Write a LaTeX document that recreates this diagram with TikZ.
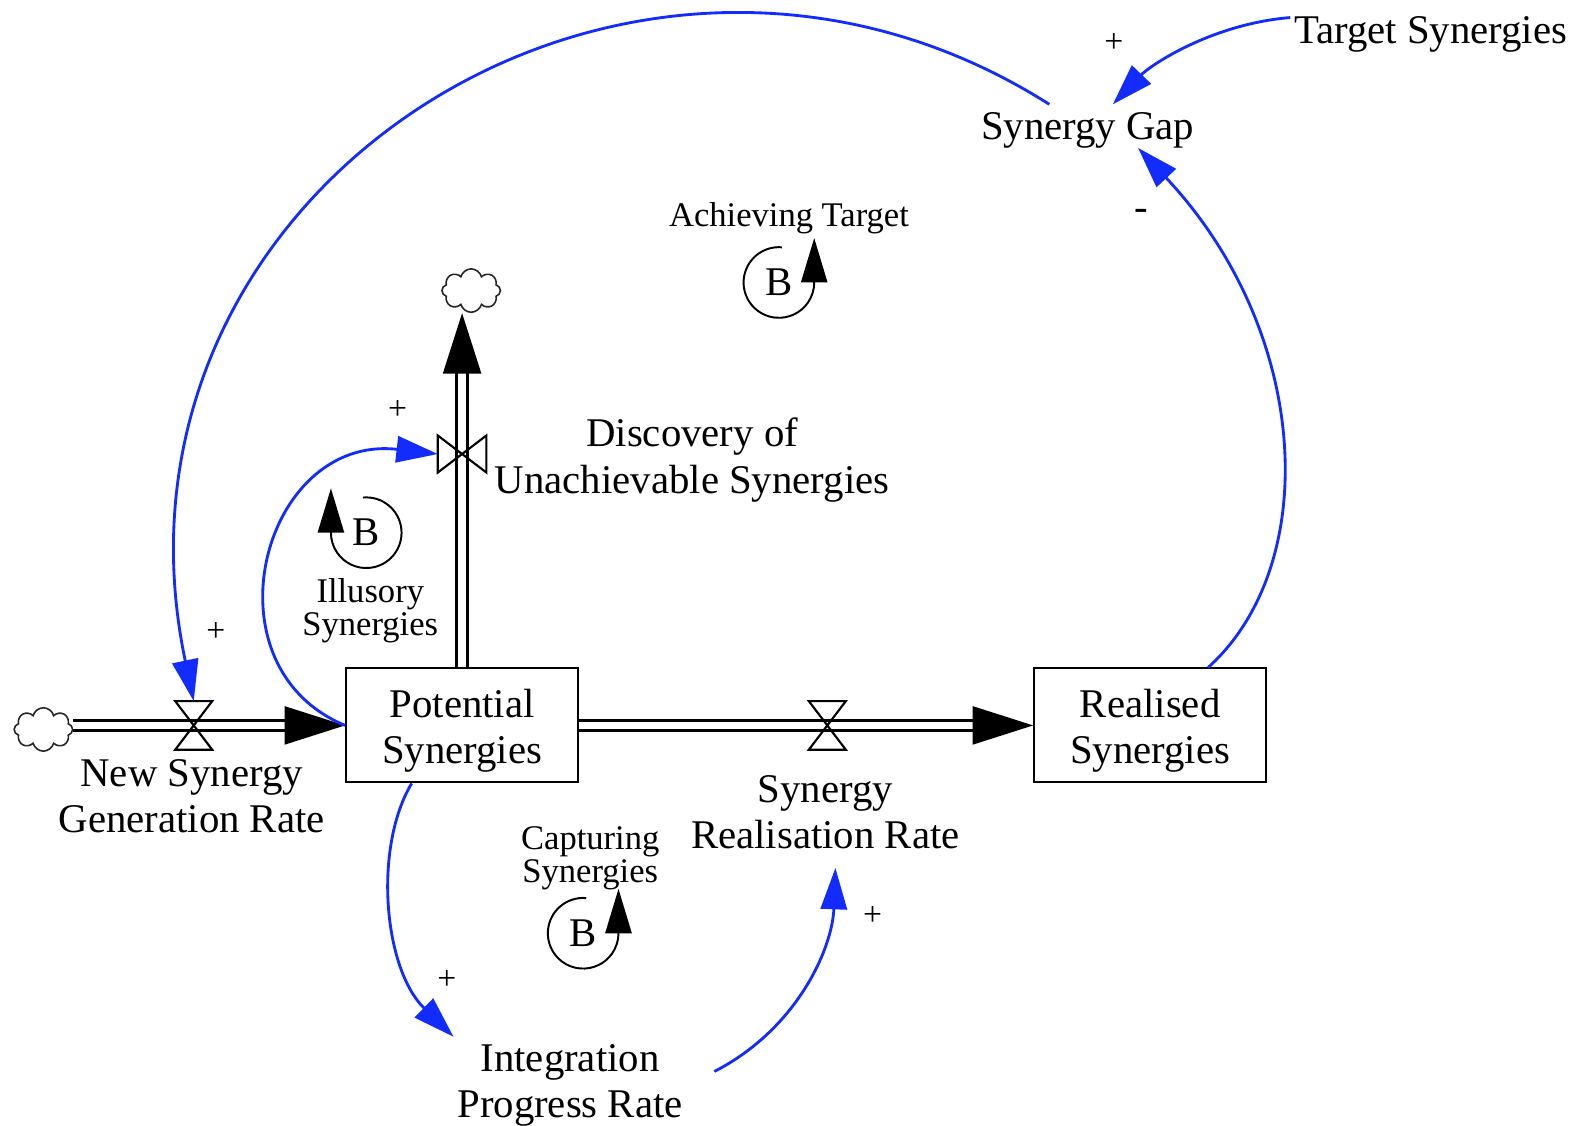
\documentclass[tikz,border=0pt]{standalone}
\usepackage{fontspec}
\setmainfont{Liberation Serif}
\usetikzlibrary{arrows.meta,shapes.symbols}
\definecolor{linkblue}{RGB}{18,44,255}

\begin{document}
\begin{tikzpicture}[
x=0.02cm, y=0.02cm,
txt/.style={align=center, font=\fontsize{23}{26}\selectfont, inner sep=2pt},
small/.style={align=center, font=\fontsize{19.5}{18.5}\selectfont, inner sep=1pt},
sign/.style={font=\fontsize{19}{19}\selectfont, inner sep=0pt},
stock/.style={rectangle, draw, line width=1.1pt, minimum width=4.6cm, minimum height=2.26cm},
valvebox/.style={rectangle, inner sep=0pt, minimum width=0.72cm, minimum height=0.95cm},
valve/.style={line width=1.2pt},
sink/.style={cloud, cloud puffs=8, draw=black!85, line width=0.9pt, minimum width=1.16cm, minimum height=0.86cm, inner sep=0pt},
pipe/.style={line width=1.6pt, double distance=4.3pt, -{Triangle[length=1.2cm, width=0.75cm]}},
link/.style={draw=linkblue, line width=1.6pt, -{Triangle[length=0.82cm, width=0.52cm]}},
loop/.style={line width=1.1pt, -{Triangle[length=0.88cm, width=0.52cm]}}
]
\useasboundingbox (0,0) rectangle (1568,1116);

% stocks and clouds
\node[stock, label={[txt, yshift=-0.1cm]center:Potential\\Synergies}] (potential) at (458,397) {};
\node[stock, label={[txt, yshift=-0.1cm]center:Realised\\Synergies}] (realised) at (1140,397) {};
\node[sink] (srcCloud) at (43,393) {};
\node[sink] (topCloud) at (467,828) {};

% flows
\draw[pipe] (srcCloud.east |- potential.west) -- (potential.west);
\draw[pipe] (potential.east) -- (realised.west);
\draw[pipe] (potential.north) -- (potential.north |- topCloud.south);

\node[valvebox] (newvalve) at (192,397) {};
\node[valvebox] (realvalve) at (820,397) {};
\node[valvebox, minimum width=0.95cm, minimum height=0.72cm] (discvalve) at (458,666) {};
\draw[valve] (newvalve.north west) -- (newvalve.north east) -- (newvalve.south west) -- (newvalve.south east) -- cycle;
\draw[valve] (realvalve.north west) -- (realvalve.north east) -- (realvalve.south west) -- (realvalve.south east) -- cycle;
\draw[valve] (discvalve.north west) -- (discvalve.south west) -- (discvalve.north east) -- (discvalve.south east) -- cycle;

% variables
\node[txt] (newrate) at (190,327) {New Synergy\\Generation Rate};
\node[txt] (realrate) at (818,311) {Synergy\\Realisation Rate};
\node[txt] (discrate) at (686,660) {Discovery of\\Unachievable Synergies};
\node[txt] (integ) at (565,40) {Integration\\Progress Rate};
\node[txt] (gap) at (1078,987) {Synergy Gap};
\node[txt] (target) at (1418,1082) {Target Synergies};

% loops
\node[small] (achieve) at (782,900) {Achieving Target};
\node[txt, inner sep=0pt] (loopA) at (772,836) {B};
\draw[loop] (loopA.center) ++(85:35) arc[start angle=85, end angle=360, radius=35] -- ++(0,44);
\node[small] (illusory) at (367,511) {Illusory\\Synergies};
\node[txt, inner sep=0pt] (loopI) at (363,588) {B};
\draw[loop] (loopI.center) ++(95:35) arc[start angle=95, end angle=-180, radius=35] -- ++(0,44);
\node[small] (capturing) at (585,265) {Capturing\\Synergies};
\node[txt, inner sep=0pt] (loopC) at (578,191) {B};
\draw[loop] (loopC.center) ++(85:35) arc[start angle=85, end angle=360, radius=35] -- ++(0,44);

% causal links
\draw[link] ([yshift=-0.1cm]target.north west) .. controls (1200,1092) and (1140,1051) .. ([xshift=0.5cm,yshift=0.08cm]gap.north);
\draw[link] ([xshift=1.15cm]realised.north) .. controls (1310,556) and (1300,786) .. ([xshift=1cm,yshift=0.08cm]gap.south);
\draw[link] ([xshift=-0.76cm,yshift=0.08cm]gap.north) .. controls (625,1276) and (85,930) .. (newvalve.north);
\draw[link] (potential.west) .. controls (200,456) and (260,686) .. (discvalve.west);
\draw[link] ([xshift=-1cm]potential.south) .. controls (370,276) and (380,156) .. ([yshift=0.08cm]integ.north west);
\draw[link] ([xshift=0.55cm,yshift=0.28cm]integ.east) .. controls (790,96) and (825,176) .. ([xshift=0.2cm,yshift=-0.3cm]realrate.south);

% polarities
\node[sign] (p1) at (1104,1073) {+};
\node[sign] (p2) at (394,710) {+};
\node[sign] (p3) at (214,490) {+};
\node[sign] (p4) at (443,145) {+};
\node[sign] (p5) at (865,208) {+};
\node[txt, inner sep=0pt] (m1) at (1131,903) {-};

\end{tikzpicture}
\end{document}
